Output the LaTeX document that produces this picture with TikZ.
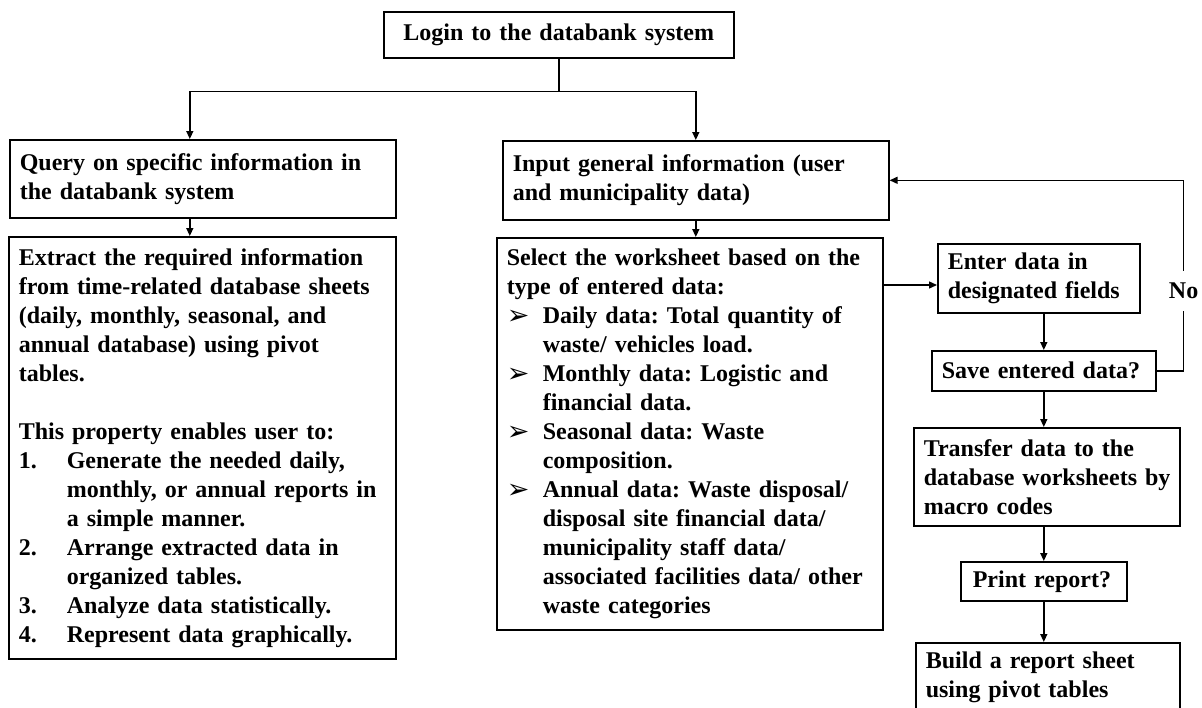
\documentclass[tikz,border=0pt]{standalone}
\usepackage{fontspec}
\setmainfont{Liberation Serif}
\newfontfamily\dingfont{DejaVu Sans}
\usetikzlibrary{arrows.meta}
\newcommand\bul{\makebox[36pt][l]{\raisebox{-1pt}{\dingfont\fontsize{27}{29}\selectfont ➢}}}
\newcommand\bulind{\hspace*{36pt}}
\newcommand\itemnum[1]{\makebox[48pt][l]{#1}}
\newcommand\nind{\hspace*{48pt}}
\frenchspacing
\begin{document}
\begin{tikzpicture}[x=1pt,y=-1pt,
  box/.style={draw, line width=1.6pt, anchor=north west, inner xsep=10pt, inner ysep=2pt,
    align=left, font=\fontsize{24}{29}\selectfont\bfseries\frenchspacing},
  ln/.style={line width=1.4pt},
  arr/.style={line width=1.4pt, -{Triangle[length=8pt,width=7pt]}},
  lbl/.style={fill=white, inner xsep=2pt, inner ysep=12pt, font=\fontsize{24}{29}\selectfont\bfseries}]
\clip (0,0) rectangle (1202,707);
\fill[white] (0,0) rectangle (1202,707);

\node[box, align=center, text width=330pt, minimum height=46pt] (login) at (383,11) {Login to the databank system};

\node[box, text width=366pt, minimum height=78pt] (query) at (9,139) {Query on specific information in\\ the databank system};

\node[box, text width=367pt, minimum height=422pt] (extract) at (8,236) {Extract the required information\\ from time-related database sheets\\ (daily, monthly, seasonal, and\\ annual database) using pivot\\ tables.\\[29pt] This property enables user to:\\ \itemnum{1.}Generate the needed daily,\\ \nind monthly, or annual reports in\\ \nind a simple manner.\\ \itemnum{2.}Arrange extracted data in\\ \nind organized tables.\\ \itemnum{3.}Analyze data statistically.\\ \itemnum{4.}Represent data graphically.};

\node[box, text width=366pt, minimum height=79pt] (input) at (502,140) {Input general information (user\\ and municipality data)};

\node[box, text width=366pt, minimum height=392pt] (select) at (496,237) {Select the worksheet based on the\\ type of entered data:\\ \bul Daily data: Total quantity of\\ \bulind waste/ vehicles load.\\ \bul Monthly data: Logistic and\\ \bulind financial data.\\ \bul Seasonal data: Waste\\ \bulind composition.\\ \bul Annual data: Waste disposal/\\ \bulind disposal site financial data/\\ \bulind municipality staff data/\\ \bulind associated facilities data/ other\\ \bulind waste categories};

\node[box, text width=182pt, minimum height=69pt] (enter) at (937,243) {Enter data in\\ designated fields};
\node[box, text width=204pt, minimum height=40pt] (save) at (931,350) {Save entered data?};
\node[box, text width=246pt, minimum height=98pt] (transfer) at (913,427) {Transfer data to the\\ \mbox{database worksheets by}\\ macro codes};
\node[box, inner xsep=12pt, text width=142pt, minimum height=39pt] (print) at (960,561) {Print report?};
\node[box, text width=244pt, minimum height=70pt] (build) at (915,642) {Build a report sheet\\ using pivot tables};

\coordinate (split) at ([yshift=-33pt]login.south);
\draw[ln] (login.south) -- (split);
\draw[arr] (split) -| ([xshift=-13pt]query.north);
\draw[arr] (split) -| (input.north);
\draw[arr] ([xshift=-13pt]query.south) -- ([xshift=-13pt]query.south |- extract.north);
\draw[arr] (input.south) -- (input.south |- select.north);
\coordinate (se) at ([yshift=-48pt]select.north east);
\draw[arr] (se) -- (se -| enter.west);
\draw[arr] (enter.south -| save.north) -- (save.north);
\draw[arr] (save.south) -- (save.south |- transfer.north);
\draw[arr] (transfer.south -| print.north) -- (print.north);
\draw[arr] (print.south) -- (print.south |- build.north);
\coordinate (loopc) at ([xshift=27pt]save.east);
\draw[arr] (save.east) -- (loopc) -- node[lbl, pos=0.42] (no) {No} (loopc |- input.east) -- (input.east);
\end{tikzpicture}
\end{document}
